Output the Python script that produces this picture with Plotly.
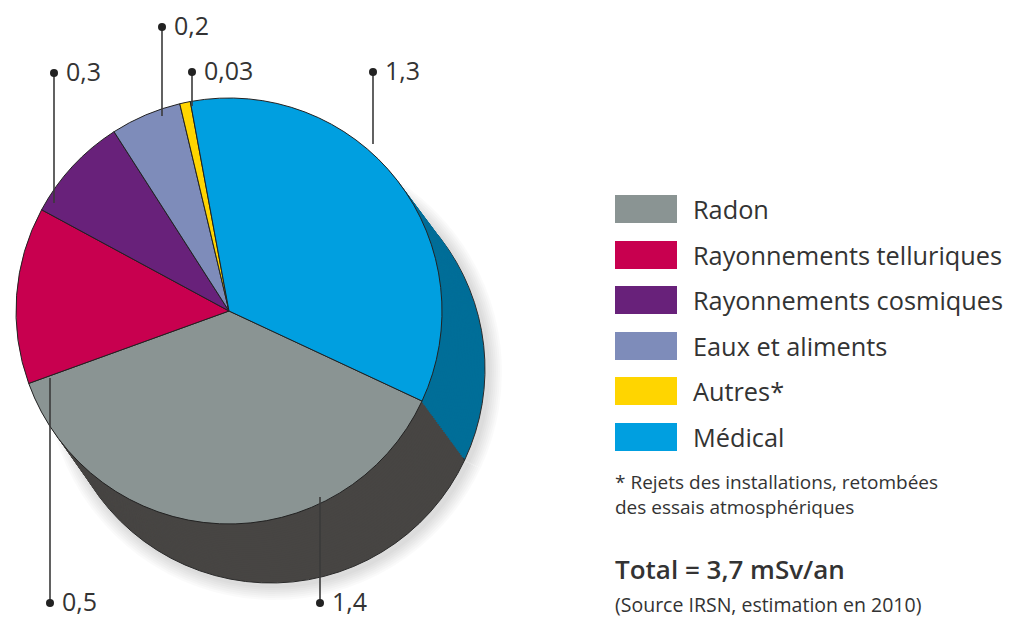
import plotly.graph_objects as go

# ---- data ----
categories = ["Radon", "Rayonnements telluriques", "Rayonnements cosmiques",
              "Eaux et aliments", "Autres*", "Médical"]
values = [1.4, 0.5, 0.3, 0.2, 0.03, 1.3]
value_labels = ["1,4", "0,5", "0,3", "0,2", "0,03", "1,3"]
top_colors = ["#8A9493", "#C8004F", "#68217A", "#7E8CBA", "#FFD500", "#009FE0"]
side_colors = ["#474543", "#7A0030", "#3D1248", "#4B5370", "#9A8000", "#006E98"]
footnote = ["* Rejets des installations, retombées", "des essais atmosphériques"]
total_text = "Total = 3,7 mSv/an"
source_text = "(Source IRSN, estimation en 2010)"

# page has an 8px body margin: the figure is sized so that it fits the window
OFF = 8
W, H = 1015 - OFF, 619 - OFF
FONT = "Open Sans"
TXT = "#333333"


def px(x):
    return (x - OFF) / W


def py(y):
    return 1 - (y - OFF) / H


# pie geometry (window pixels)
top_c = (229, 311)
top_r = 213
bot_c = (271, 369)
bot_r = 214
ROT = 115


def domain(cx, cy, r):
    return dict(x=[px(cx - r), px(cx + r)], y=[py(cy + r), py(cy - r)])


fig = go.Figure()

# soft glow behind the extrusion
for k in range(14, 0, -2):
    fig.add_trace(go.Pie(values=values, labels=categories, sort=False,
                         direction="clockwise", rotation=ROT,
                         domain=domain(bot_c[0] + 3, bot_c[1] + 3, bot_r + k),
                         marker=dict(colors=["rgba(0,0,0,0.018)"] * len(values),
                                     line=dict(width=0)),
                         textinfo="none", hoverinfo="skip", showlegend=False))

# extruded side (stack of pies from the bottom up)
N = 30
for i in range(N, 0, -1):
    t = i / N
    cx = top_c[0] + (bot_c[0] - top_c[0]) * t
    cy = top_c[1] + (bot_c[1] - top_c[1]) * t
    r = top_r + (bot_r - top_r) * t
    fig.add_trace(go.Pie(values=values, labels=categories, sort=False,
                         direction="clockwise", rotation=ROT,
                         domain=domain(cx, cy, r),
                         marker=dict(colors=side_colors,
                                     line=dict(color="#2a2a2a", width=1 if i == N else 0)),
                         textinfo="none", hoverinfo="skip", showlegend=False))

# top face
fig.add_trace(go.Pie(values=values, labels=categories, sort=False,
                     direction="clockwise", rotation=ROT,
                     domain=domain(*top_c, top_r),
                     marker=dict(colors=top_colors, line=dict(color="#222222", width=1)),
                     textinfo="none", hoverinfo="label+value", showlegend=False))

shapes = []
annotations = []

# value labels with leader lines: (dot x, dot y, line end y) in window px
leader = {
    "1,4": (320, 603, 497),
    "0,5": (50, 603, 378),
    "0,3": (54, 73, 203),
    "0,2": (162, 27, 116),
    "0,03": (192, 72, 106),
    "1,3": (373, 72, 144),
}
for lab in value_labels:
    x, y, y2 = leader[lab]
    shapes.append(dict(type="line", xref="paper", yref="paper",
                       x0=px(x), x1=px(x), y0=py(y), y1=py(y2),
                       line=dict(color="#3a3a3a", width=1.6)))
    shapes.append(dict(type="circle", xref="paper", yref="paper",
                       x0=px(x - 4), x1=px(x + 4), y0=py(y + 4), y1=py(y - 4),
                       fillcolor="#222222", line=dict(width=0)))
    annotations.append(dict(x=px(x + 10), y=py(y - 2), xref="paper", yref="paper",
                            text=lab, showarrow=False, xanchor="left", yanchor="middle",
                            font=dict(family=FONT, size=25, color=TXT)))

# legend
leg_y = [209, 255, 300, 346, 391, 437]
for cat, col, y in zip(categories, top_colors, leg_y):
    shapes.append(dict(type="rect", xref="paper", yref="paper",
                       x0=px(615), x1=px(677), y0=py(y + 14), y1=py(y - 14),
                       fillcolor=col, line=dict(width=0)))
    annotations.append(dict(x=px(691), y=py(y), xref="paper", yref="paper",
                            text=cat, showarrow=False, xanchor="left", yanchor="middle",
                            font=dict(family=FONT, size=25.3, color=TXT)))

annotations.append(dict(x=px(613), y=py(494), xref="paper", yref="paper",
                        text="<br>".join(footnote), showarrow=False, align="left",
                        xanchor="left", yanchor="middle",
                        font=dict(family=FONT, size=19, color=TXT)))
annotations.append(dict(x=px(613), y=py(569), xref="paper", yref="paper",
                        text=total_text, showarrow=False,
                        xanchor="left", yanchor="middle",
                        font=dict(family=FONT, size=26, color=TXT, weight=600)))
annotations.append(dict(x=px(613), y=py(604), xref="paper", yref="paper",
                        text=source_text, showarrow=False,
                        xanchor="left", yanchor="middle",
                        font=dict(family=FONT, size=19.5, color=TXT)))

fig.update_layout(width=W, height=H, margin=dict(l=0, r=0, t=0, b=0),
                  paper_bgcolor="white", plot_bgcolor="white",
                  shapes=shapes, annotations=annotations, showlegend=False)

fig.write_html("out.html")
